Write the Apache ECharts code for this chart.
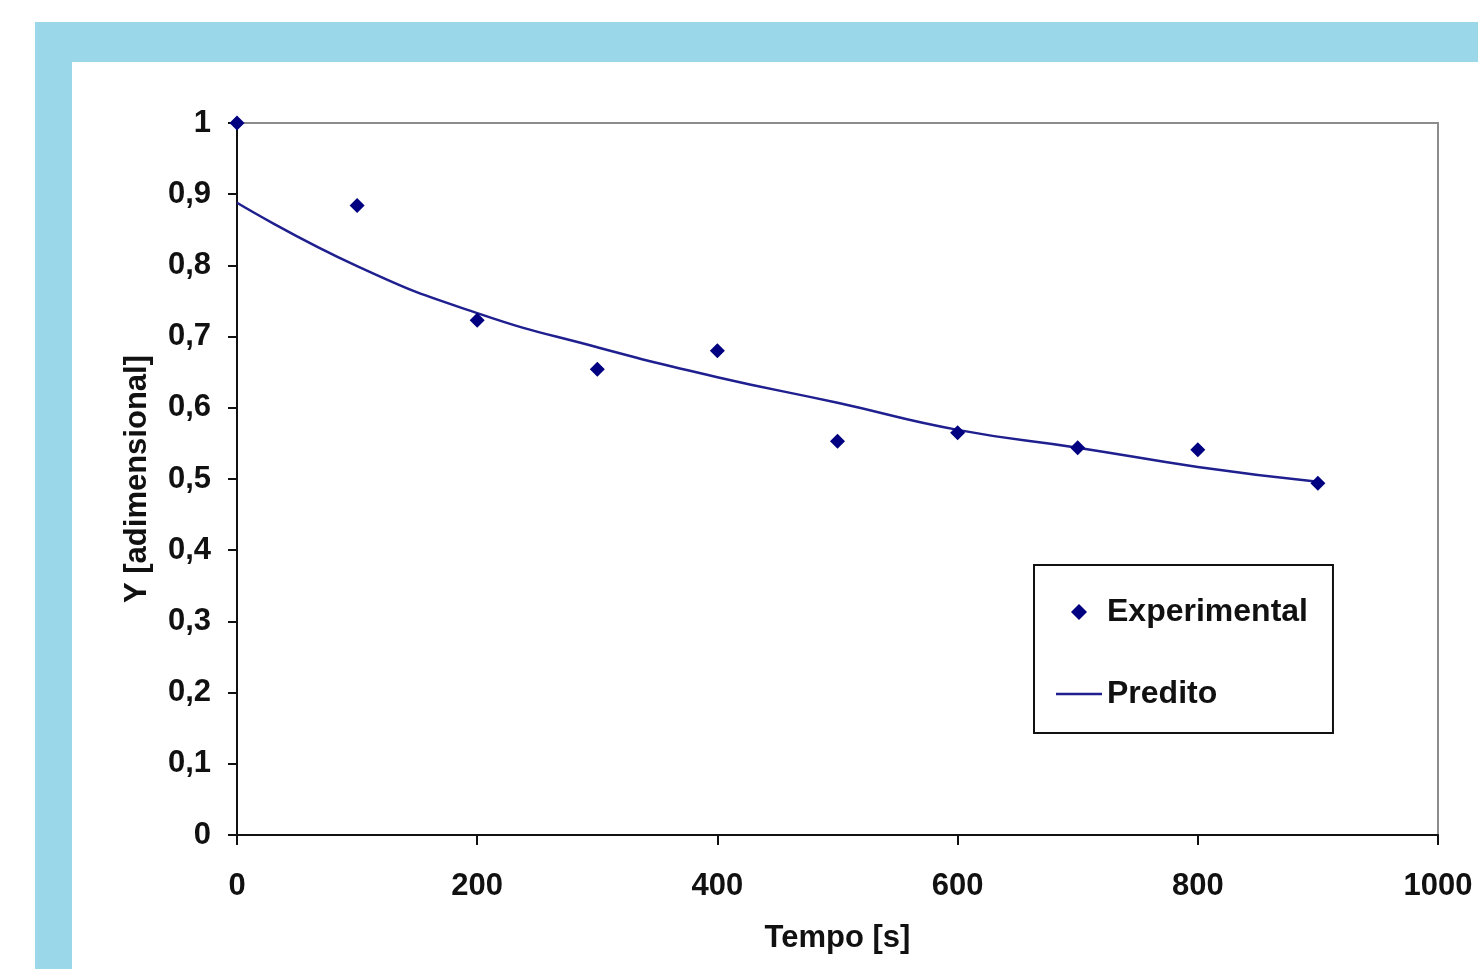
<!DOCTYPE html>
<html><head><meta charset="utf-8">
<script src="https://cdn.jsdelivr.net/npm/echarts@6/dist/echarts.min.js"></script>
<style>html,body{margin:0;padding:0;background:#fff}#c{width:1478px;height:969px}</style>
</head><body><div id="c"></div>
<script>
const tempo = [0, 100, 200, 300, 400, 500, 600, 700, 800, 900];
const experimental = [1.0, 0.884, 0.723, 0.654, 0.680, 0.553, 0.565, 0.544, 0.541, 0.494];
const predito = [0.888, 0.799, 0.733, 0.685, 0.643, 0.607, 0.569, 0.544, 0.517, 0.496];

const font = 'Liberation Sans, Arial, sans-serif';
const txt = '#111';
const chart = echarts.init(document.getElementById('c'));
chart.setOption({
  backgroundColor: '#fff',
  animation: false,
  graphic: [
    {type:'rect', shape:{x:35,y:22,width:1443,height:40}, style:{fill:'#9AD7E8'}, z:-10},
    {type:'rect', shape:{x:35,y:62,width:37,height:907}, style:{fill:'#9AD7E8'}, z:-10}
  ],
  grid: {left:237, right:40, top:123, bottom:134, show:true, borderColor:'#8c8c8c', borderWidth:2, backgroundColor:'transparent'},
  xAxis: {
    type:'value', min:0, max:1000, interval:200,
    name:'Tempo [s]', nameLocation:'middle', nameGap:88,
    nameTextStyle:{fontFamily:font, fontWeight:'bold', fontSize:31, color:txt},
    axisLine:{show:true, onZero:false, lineStyle:{color:'#111', width:2}},
    axisTick:{show:true, inside:false, length:10, lineStyle:{color:'#111', width:2}},
    axisLabel:{margin:36, fontFamily:font, fontWeight:'bold', fontSize:31, color:txt,
      formatter: v => String(v)},
    splitLine:{show:false}
  },
  yAxis: {
    type:'value', min:0, max:1, interval:0.1,
    name:'Y [adimensional]', nameLocation:'middle', nameGap:84,
    nameTextStyle:{fontFamily:font, fontWeight:'bold', fontSize:31, color:txt},
    axisLine:{show:true, onZero:false, lineStyle:{color:'#111', width:2}},
    axisTick:{show:true, inside:false, length:9, lineStyle:{color:'#111', width:2}},
    axisLabel:{margin:26, fontFamily:font, fontWeight:'bold', fontSize:31, color:txt,
      formatter: v => (Math.round(v*10)/10).toString().replace('.', ',')},
    splitLine:{show:false}
  },
  legend: {
    orient:'vertical', left:1034, top:565,
    padding:[31, 25, 23, 22],
    itemGap:50, itemWidth:46, itemHeight:16,
    borderColor:'#111', borderWidth:2,
    symbolKeepAspect:true,
    textStyle:{fontFamily:font, fontWeight:'bold', fontSize:32, color:txt},
    data:[
      {name:'Experimental', icon:'path://M0,-1L1,0L0,1L-1,0Z'},
      {name:'Predito', icon:'path://M0,0L46,0L46,2.5L0,2.5Z'}
    ]
  },
  series: [
    {
      name:'Predito', type:'line', smooth:true, symbol:'none',
      data: tempo.map((t,i)=>[t, predito[i]]),
      lineStyle:{color:'#1f1f8f', width:2.5}, itemStyle:{color:'#1f1f8f'}, z:2
    },
    {
      name:'Experimental', type:'scatter', symbol:'diamond', symbolSize:15,
      data: tempo.map((t,i)=>[t, experimental[i]]),
      itemStyle:{color:'#000080', opacity:1}, z:3, clip:false
    }
  ]
});
</script></body></html>
